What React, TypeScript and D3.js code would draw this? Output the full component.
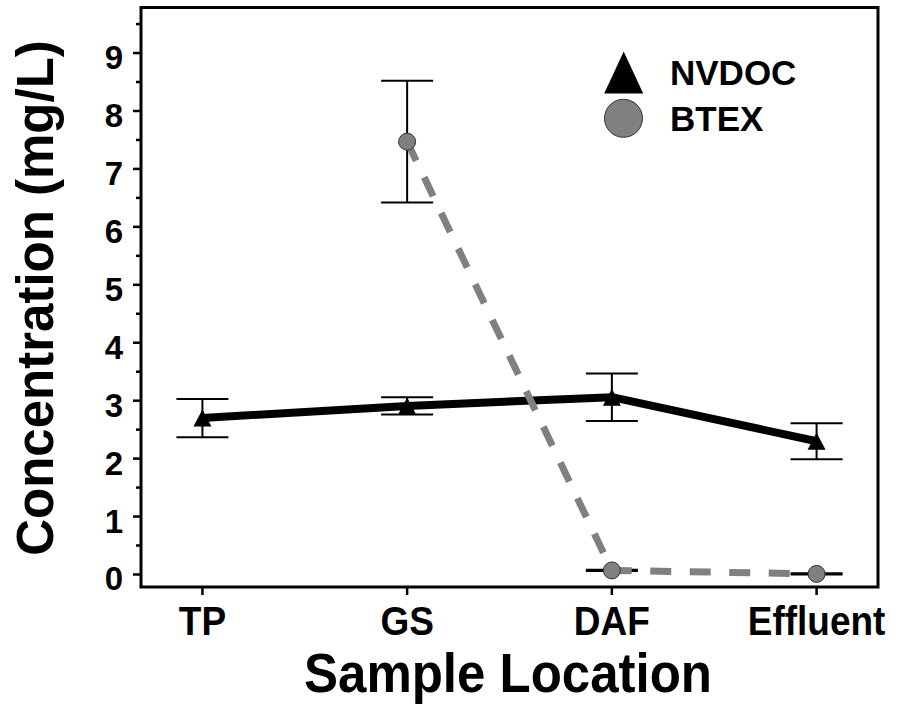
import React from "react";
import * as d3 from "d3";

// Sample locations along the treatment train
const categories = ["TP", "GS", "DAF", "Effluent"];

// NVDOC concentration (mg/L) and error
const nvdocMean = [2.7, 2.91, 3.06, 2.3];
const nvdocErr = [0.33, 0.15, 0.41, 0.31];

// BTEX concentration (mg/L) and error (not measured at TP)
const btexMean: (number | null)[] = [null, 7.47, 0.07, 0.01];
const btexErr: (number | null)[] = [null, 1.05, 0.01, 0.01];

const majorTicks = [0, 1, 2, 3, 4, 5, 6, 7, 8, 9];
const minorTicks = [0.5, 1.5, 2.5, 3.5, 4.5, 5.5, 6.5, 7.5, 8.5, 9.5];

const W = 897;
const H = 706;
const frame = { left: 141, top: 7.5, right: 878, bottom: 587 };
const FONT = "'Liberation Sans', Arial, Helvetica, sans-serif";

const x = d3
  .scalePoint<string>()
  .domain(categories)
  .range([frame.left, frame.right])
  .padding(0.3);

const y = d3
  .scaleLinear()
  .domain([-0.216, 9.786])
  .range([frame.bottom, frame.top]);

function trianglePath(cx: number, cy: number, w: number, h: number) {
  return `M${cx},${cy - h / 2}L${cx + w / 2},${cy + h / 2}L${cx - w / 2},${cy + h / 2}Z`;
}

export default function App() {
  const nvdocPts = categories.map((c, i) => ({ c, v: nvdocMean[i], e: nvdocErr[i] }));
  const btexPts = categories
    .map((c, i) => ({ c, v: btexMean[i], e: btexErr[i] }))
    .filter((d) => d.v !== null) as { c: string; v: number; e: number }[];

  const line = d3
    .line<{ c: string; v: number }>()
    .x((d) => x(d.c)!)
    .y((d) => y(d.v));

  const capHalf = 26;

  return (
    <svg
      width={W}
      height={H}
      style={{ position: "absolute", left: 0, top: 0, background: "#fff" }}
      fontFamily={FONT}
      fontWeight="bold"
    >
      <rect x={0} y={0} width={W} height={H} fill="#fff" />

      {/* y axis ticks and labels */}
      {majorTicks.map((t) => (
        <g key={`ym${t}`}>
          <line x1={frame.left - 8} x2={frame.left} y1={y(t)} y2={y(t)} stroke="#000" strokeWidth={2.5} />
          <text x={123} y={y(t) + 16} textAnchor="end" fontSize={33}>
            {t}
          </text>
        </g>
      ))}
      {minorTicks.map((t) => (
        <line key={`yn${t}`} x1={frame.left - 5} x2={frame.left} y1={y(t)} y2={y(t)} stroke="#000" strokeWidth={2.5} />
      ))}

      {/* x axis ticks and labels */}
      {categories.map((c) => (
        <g key={`x${c}`}>
          <line x1={x(c)} x2={x(c)} y1={frame.bottom} y2={frame.bottom + 8} stroke="#000" strokeWidth={2.5} />
          <text transform={`translate(${x(c)},635) scale(1,1.08)`} textAnchor="middle" fontSize={37}>
            {c}
          </text>
        </g>
      ))}

      {/* axis titles */}
      <text transform="translate(508,692) scale(1,1.08)" textAnchor="middle" fontSize={51}>
        Sample Location
      </text>
      <text transform="translate(53,298) rotate(-90)" textAnchor="middle" fontSize={51}>
        Concentration (mg/L)
      </text>

      {/* NVDOC series */}
      {nvdocPts.map((d) => (
        <g key={`ne${d.c}`} stroke="#000" strokeWidth={2}>
          <line x1={x(d.c)} x2={x(d.c)} y1={y(d.v + d.e)} y2={y(d.v - d.e)} />
          <line x1={x(d.c)! - capHalf} x2={x(d.c)! + capHalf} y1={y(d.v + d.e)} y2={y(d.v + d.e)} />
          <line x1={x(d.c)! - capHalf} x2={x(d.c)! + capHalf} y1={y(d.v - d.e)} y2={y(d.v - d.e)} />
        </g>
      ))}
      <path d={line(nvdocPts)!} fill="none" stroke="#000" strokeWidth={8} strokeLinejoin="round" />
      {nvdocPts.map((d) => (
        <path key={`nm${d.c}`} d={trianglePath(x(d.c)!, y(d.v), 18, 17)} fill="#000" />
      ))}

      {/* BTEX series */}
      {btexPts.map((d) => (
        <g key={`be${d.c}`} stroke="#000" strokeWidth={2}>
          <line x1={x(d.c)} x2={x(d.c)} y1={y(d.v + d.e)} y2={y(d.v - d.e)} />
          <line x1={x(d.c)! - capHalf} x2={x(d.c)! + capHalf} y1={y(d.v + d.e)} y2={y(d.v + d.e)} />
          <line x1={x(d.c)! - capHalf} x2={x(d.c)! + capHalf} y1={y(d.v - d.e)} y2={y(d.v - d.e)} />
        </g>
      ))}
      <path d={line(btexPts)!} fill="none" stroke="#808080" strokeWidth={7} strokeDasharray="21 18.5" />
      {btexPts.map((d) => (
        <circle key={`bm${d.c}`} cx={x(d.c)} cy={y(d.v)} r={8.5} fill="#808080" stroke="#333" strokeWidth={1} />
      ))}

      {/* legend */}
      <path d={trianglePath(623.7, 72.5, 39, 42)} fill="#000" />
      <text x={670} y={85} fontSize={35}>
        NVDOC
      </text>
      <circle cx={623.5} cy={118.3} r={19} fill="#808080" stroke="#333" strokeWidth={1} />
      <text x={670} y={130.5} fontSize={35}>
        BTEX
      </text>

      {/* plot frame */}
      <rect
        x={frame.left}
        y={frame.top}
        width={frame.right - frame.left}
        height={frame.bottom - frame.top}
        fill="none"
        stroke="#000"
        strokeWidth={3}
      />
    </svg>
  );
}
